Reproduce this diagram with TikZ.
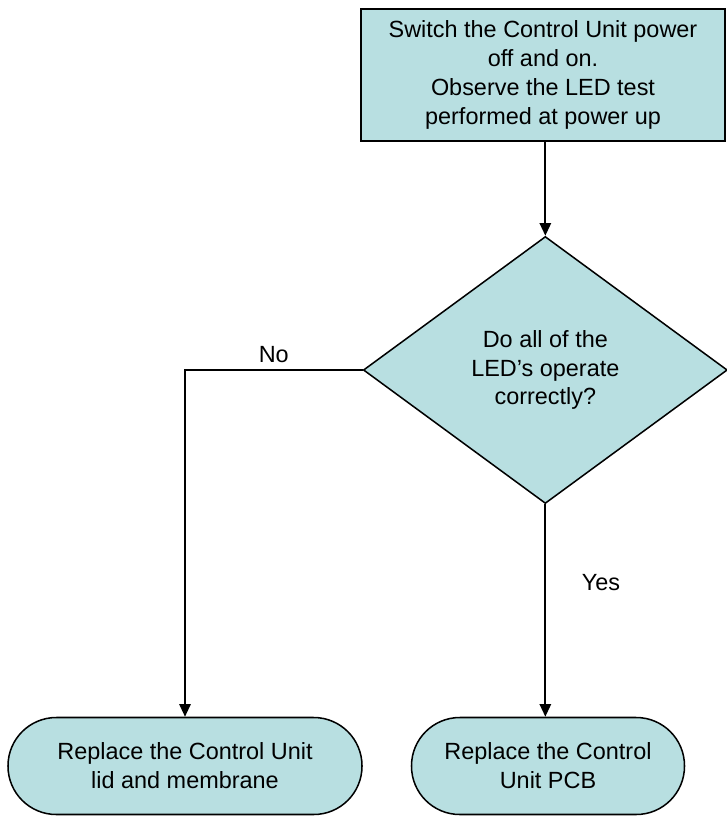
\documentclass[tikz,border=0pt]{standalone}
\usepackage{fontspec}
\setmainfont{Liberation Sans}
\usepackage{tikz}
\usepackage{xcolor}
\usetikzlibrary{arrows.meta,positioning,shapes.geometric}
\definecolor{panel}{RGB}{184,223,225}

\begin{document}
\begin{tikzpicture}[
  stepbox/.style={draw=black,line width=1.5pt,fill=panel,align=center,inner sep=2pt,minimum width=10.92cm,minimum height=3.96cm,font=\fontsize{20}{24.6}\selectfont},
  query/.style={diamond,draw=black,line width=1.3pt,fill=panel,align=center,inner sep=0pt,minimum width=10.92cm,minimum height=8.01cm,font=\fontsize{20}{24.6}\selectfont},
  endbox/.style={draw=black,line width=1.3pt,fill=panel,rounded corners=1.45cm,align=center,inner sep=2pt,minimum height=2.91cm,font=\fontsize{20}{24.6}\selectfont},
  arrow/.style={-{Triangle[length=3.8mm,width=3.4mm]},line width=1.6pt,draw=black},
  tag/.style={font=\fontsize{20}{24.6}\selectfont}
]
\useasboundingbox (0,0) rectangle (21.78,-24.51);
\node[stepbox] (power) at (16.29,-2.25) {Switch the Control Unit power\\off and on.\\Observe the LED test\\performed at power up};
\node[query] (leds) at (16.36,-11.1) {Do all of the\\LED’s operate\\correctly?};
\node[endbox,minimum width=10.62cm] (lid) at (5.55,-22.98) {Replace the Control Unit\\lid and membrane};
\node[endbox,minimum width=8.19cm] (pcb) at (16.44,-22.98) {Replace the Control\\Unit PCB};
\coordinate (corner) at (5.55,-11.1);

\draw[arrow] (power.south -| leds.north) -- (leds.north);
\draw[arrow] (leds.west) -- node[tag,above,pos=0.5,yshift=2pt] {No} (corner) -- (lid.north);
\draw[arrow] (leds.south) -- node[tag,right,pos=0.37,xshift=27pt] {Yes} (leds.south |- pcb.north);
\end{tikzpicture}
\end{document}
